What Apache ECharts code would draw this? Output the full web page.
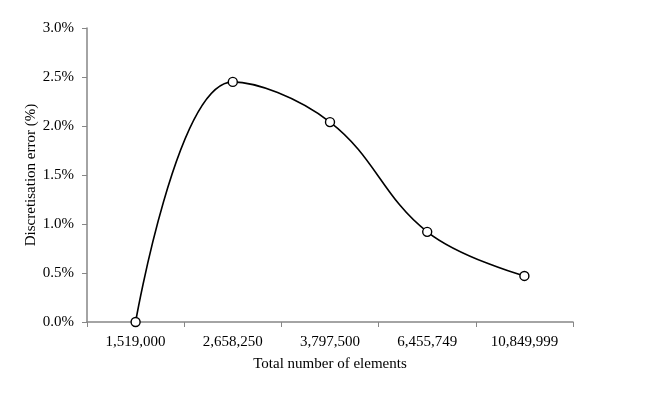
<!DOCTYPE html>
<html>
<head>
<meta charset="utf-8">
<script src="https://cdn.jsdelivr.net/npm/echarts@6/dist/echarts.min.js"></script>
<style>
  html, body { margin: 0; padding: 0; background: #fff; }
  #main { width: 647px; height: 397px; }
</style>
</head>
<body>
<div id="main"></div>
<script>
// number of elements in the mesh (category labels)
var elements = ["1,519,000", "2,658,250", "3,797,500", "6,455,749", "10,849,999"];
// discretisation error in percent
var errorPct = [0.0, 2.45, 2.04, 0.92, 0.47];

var font = "Liberation Serif";
var myChart = echarts.init(document.getElementById("main"));
var option = {
  animation: false,
  backgroundColor: "#fff",
  grid: { left: 87, right: 74, top: 28, bottom: 75 },
  xAxis: {
    type: "category",
    data: elements,
    boundaryGap: true,
    name: "Total number of elements",
    nameLocation: "middle",
    nameGap: 35,
    nameMoveOverlap: false,
    nameTextStyle: { fontFamily: font, fontSize: 15, color: "#000" },
    axisLine: { lineStyle: { color: "#868686", width: 1.5 } },
    axisTick: { show: true, alignWithLabel: false, length: 5, lineStyle: { color: "#868686" } },
    axisLabel: { fontFamily: font, fontSize: 15, color: "#000", margin: 13 },
    splitLine: { show: false }
  },
  yAxis: {
    type: "value",
    min: 0,
    max: 3,
    interval: 0.5,
    name: "Discretisation error (%)",
    nameLocation: "middle",
    nameGap: 48,
    nameMoveOverlap: false,
    nameTextStyle: { fontFamily: font, fontSize: 15, color: "#000" },
    axisLine: { show: true, lineStyle: { color: "#868686", width: 1.5 } },
    axisTick: { show: true, inside: false, length: 5, lineStyle: { color: "#868686" } },
    axisLabel: {
      fontFamily: font, fontSize: 15, color: "#000", margin: 13,
      formatter: function (v) { return v.toFixed(1) + "%"; }
    },
    splitLine: { show: false }
  },
  series: [
    {
      type: "line",
      data: errorPct,
      smooth: 0.4,
      symbol: "circle",
      symbolSize: 9,
      itemStyle: { color: "#fff", borderColor: "#000", borderWidth: 1.4 },
      lineStyle: { color: "#000", width: 1.6 }
    }
  ]
};
myChart.setOption(option);
</script>
</body>
</html>
